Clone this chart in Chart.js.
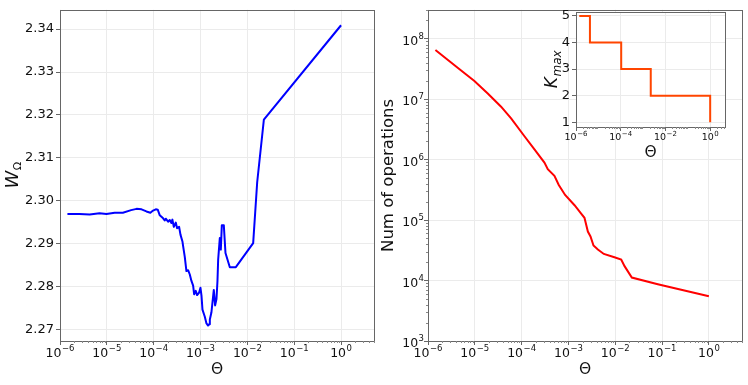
<!DOCTYPE html>
<html><head><meta charset="utf-8">
<script src="https://cdn.jsdelivr.net/npm/chart.js@4/dist/chart.umd.min.js"></script>
<style>
html,body{margin:0;padding:0;background:#fff;}
body{width:748px;height:385px;position:relative;overflow:hidden;}
.box{position:absolute;}
</style></head><body>
<div class="box" style="left:0;top:0;width:380px;height:385px"><canvas id="c1"></canvas></div>
<div class="box" style="left:374px;top:0;width:374px;height:385px"><canvas id="c2"></canvas></div>
<div class="box" style="left:530px;top:0;width:218px;height:170px"><canvas id="c3"></canvas></div>
<script>
// ---- data ----
const thetaW = [1.44e-6, 2.6e-6, 4.3e-6, 7.0e-6, 9.8e-6, 1.47e-5, 2.2e-5, 3.3e-5, 4.3e-5, 5.5e-5, 7.0e-5, 8.5e-5, 9.7e-5, 1.11e-4, 1.22e-4, 1.35e-4, 1.59e-4, 1.72e-4, 1.81e-4, 2.03e-4, 2.2e-4, 2.39e-4, 2.51e-4, 2.69e-4, 2.96e-4, 3.16e-4, 3.49e-4, 3.73e-4, 4.11e-4, 4.25e-4, 4.61e-4, 5.0e-4, 5.43e-4, 5.9e-4, 6.4e-4, 6.95e-4, 7.3e-4, 7.9e-4, 8.45e-4, 9.33e-4, 9.97e-4, 1.05e-3, 1.1e-3, 1.23e-3, 1.34e-3, 1.45e-3, 1.53e-3, 1.58e-3, 1.71e-3, 1.92e-3, 2.05e-3, 2.19e-3, 2.3e-3, 2.38e-3, 2.58e-3, 2.71e-3, 2.85e-3, 3.14e-3, 3.41e-3, 4.22e-3, 5.67e-3, 1.33e-2, 1.62e-2, 2.25e-2, 1.0];
const wOmega = [2.2969, 2.2969, 2.2968, 2.2971, 2.2969, 2.2972, 2.2972, 2.2978, 2.2981, 2.2980, 2.2975, 2.2972, 2.2977, 2.2980, 2.2979, 2.2966, 2.2959, 2.2954, 2.2958, 2.2951, 2.2955, 2.2948, 2.2956, 2.2939, 2.2949, 2.2936, 2.2939, 2.2921, 2.2905, 2.2894, 2.2869, 2.2836, 2.2838, 2.2828, 2.2813, 2.2802, 2.2782, 2.2790, 2.2780, 2.2786, 2.2797, 2.2778, 2.2746, 2.2730, 2.2714, 2.2709, 2.2712, 2.2723, 2.2740, 2.2792, 2.2756, 2.2771, 2.2813, 2.2863, 2.2913, 2.2886, 2.2943, 2.2943, 2.2878, 2.2845, 2.2845, 2.2901, 2.3043, 2.3189, 2.3409];
const thetaOps = [1.44e-6, 4.3e-6, 9.8e-6, 1.89e-5, 3.64e-5, 5.96e-5, 1.15e-4, 1.88e-4, 3.07e-4, 3.62e-4, 5.02e-4, 6.22e-4, 8.49e-4, 1.35e-3, 1.87e-3, 2.2e-3, 2.6e-3, 2.96e-3, 3.43e-3, 4.25e-3, 5.7e-3, 9.6e-3, 1.34e-2, 1.58e-2, 2.26e-2, 8.1e-2, 1.0];
const numOps = [6.5e7, 3.3e7, 2.0e7, 1.24e7, 7.5e6, 4.8e6, 2.43e6, 1.47e6, 8.9e5, 6.95e5, 5.4e5, 3.8e5, 2.6e5, 1.76e5, 1.28e5, 1.09e5, 6.45e4, 5.35e4, 3.8e4, 3.25e4, 2.75e4, 2.43e4, 2.23e4, 1.73e4, 1.12e4, 8.7e3, 5.5e3];
const thetaK = [1.4e-6, 4.2e-6, 1.05e-4, 2.2e-3, 1.0];
const kMax = [5, 4, 3, 2, 1];
const xTicksMain = [1e-6, 1e-5, 1e-4, 1e-3, 1e-2, 1e-1, 1];
const xTicksInset = [1e-6, 1e-4, 1e-2, 1];
const wTicks = [2.27, 2.28, 2.29, 2.30, 2.31, 2.32, 2.33, 2.34];
const opsTicks = [1e3, 1e4, 1e5, 1e6, 1e7, 1e8];
const kTicks = [1, 2, 3, 4, 5];

// ---- helpers ----
const FONT = "'DejaVu Sans', sans-serif";
Chart.defaults.font.family = FONT;
Chart.defaults.color = '#111';
function fixTicks(list){ return s => { s.ticks = list.map(v => ({value: v})); }; }
const GRID = '#ebebeb', SPINE = '#666', TXT = '#111';

// draw "10^e" label with a real superscript
function drawPow(c, v, x, y, base, sup, align){
  const e = Math.round(Math.log10(v));
  const es = (e < 0 ? '\u2212' : '') + Math.abs(e);
  c.font = base + 'px ' + FONT; const w1 = c.measureText('10').width;
  c.font = sup + 'px ' + FONT; const w2 = c.measureText(es).width;
  const tot = w1 + w2 + 0.5;
  let x0 = align === 'right' ? x - tot : x - tot / 2;
  c.textAlign = 'left'; c.textBaseline = 'alphabetic'; c.fillStyle = TXT;
  c.font = base + 'px ' + FONT; c.fillText('10', x0, y);
  c.font = sup + 'px ' + FONT; c.fillText(es, x0 + w1 + 0.5, y - base * 0.45);
}

const decoPlugin = {
  id: 'deco',
  beforeDraw(chart, args, o){
    if (o.bg){
      const a = chart.chartArea, c = chart.ctx;
      c.save(); c.fillStyle = '#fff';
      c.fillRect(a.left, a.top, a.right - a.left, a.bottom - a.top);
      c.restore();
    }
  },
  afterDatasetsDraw(chart, args, o){
    const a = chart.chartArea, c = chart.ctx;
    const xs = chart.scales.x, ys = chart.scales.y;
    c.save();
    // frame (spines)
    c.strokeStyle = SPINE; c.lineWidth = 1;
    c.strokeRect(Math.round(a.left) + 0.5, Math.round(a.top) + 0.5, Math.round(a.right - a.left), Math.round(a.bottom - a.top));
    // minor ticks on log axes
    c.strokeStyle = '#888';
    c.beginPath();
    const minors = (sc, fn) => {
      const lo = Math.floor(Math.log10(sc.min)), hi = Math.ceil(Math.log10(sc.max));
      for (let d = lo; d <= hi; d++) for (let k = 2; k <= 9; k++){
        const v = k * Math.pow(10, d);
        if (v >= sc.min && v <= sc.max) fn(Math.round(sc.getPixelForValue(v)) + 0.5);
      }
    };
    minors(xs, px => { c.moveTo(px, Math.round(a.bottom)); c.lineTo(px, Math.round(a.bottom) + o.minorLen); });
    if (ys.type === 'logarithmic') minors(ys, py => { c.moveTo(Math.round(a.left), py); c.lineTo(Math.round(a.left) - o.minorLen, py); });
    c.stroke();
    // x tick labels (powers of ten)
    xs.ticks.forEach(t => drawPow(c, t.value, xs.getPixelForValue(t.value), a.bottom + o.xLabBase, o.xBase, o.xSup, 'center'));
    if (o.yPow) ys.ticks.forEach(t => drawPow(c, t.value, a.left - 4, ys.getPixelForValue(t.value) + o.yLabShift, o.yBase, o.ySup, 'right'));
    // x title
    c.fillStyle = TXT;
    c.font = o.xTitleSize + 'px ' + FONT;
    c.textAlign = 'center'; c.textBaseline = 'middle';
    c.fillText(o.xTitle, (a.left + a.right) / 2, a.bottom + o.xTitleOffset);
    // y title (rotated, with optional subscript)
    c.translate(a.left - o.yTitleOffset, (a.top + a.bottom) / 2);
    c.rotate(-Math.PI / 2);
    c.textAlign = 'left'; c.textBaseline = 'middle';
    const mainFont = (o.yItalic ? 'italic ' : '') + o.yTitleSize + 'px ' + FONT;
    const subFont = (o.ySubItalic ? 'italic ' : '') + o.ySubSize + 'px ' + FONT;
    c.font = mainFont; const w1 = c.measureText(o.yMain).width;
    c.font = subFont; const w2 = o.ySub ? c.measureText(o.ySub).width : 0;
    const x0 = -(w1 + w2) / 2;
    c.font = mainFont; c.fillText(o.yMain, x0, 0);
    if (o.ySub){ c.font = subFont; c.fillText(o.ySub, x0 + w1 + 0.5, o.ySubShift); }
    c.restore();
  }
};
Chart.register(decoPlugin);

function baseOpts(cfg){
  return {
    responsive: true, maintainAspectRatio: false, animation: false, devicePixelRatio: 1,
    layout: {padding: cfg.padding},
    plugins: {legend: {display: false}, tooltip: {enabled: false}, deco: cfg.deco},
    scales: {
      x: {
        type: 'logarithmic', min: cfg.xMin, max: cfg.xMax,
        afterBuildTicks: fixTicks(cfg.xTicks),
        afterFit: s => { s.height = cfg.xAxisH; },
        grid: {color: GRID, tickColor: SPINE, tickLength: 4, lineWidth: 1},
        border: {display: false},
        ticks: {autoSkip: false, maxRotation: 0, minRotation: 0, padding: 1, font: {size: 12}, callback: () => ''}
      },
      y: {
        type: cfg.yType, min: cfg.yMin, max: cfg.yMax,
        afterBuildTicks: fixTicks(cfg.yTicks),
        afterFit: s => { s.width = cfg.yAxisW; },
        grid: {color: GRID, tickColor: SPINE, tickLength: 4, lineWidth: 1},
        border: {display: false},
        ticks: {autoSkip: false, padding: 2, font: {size: cfg.yTickSize}, color: TXT, callback: cfg.yFmt}
      }
    }
  };
}

// ---- left chart ----
new Chart(document.getElementById('c1'), {
  type: 'line',
  data: {datasets: [{data: thetaW.map((t, i) => ({x: t, y: wOmega[i]})), borderColor: '#0000ff', borderWidth: 2, pointRadius: 0, tension: 0, fill: false, borderJoinStyle: 'round'}]},
  options: baseOpts({
    padding: {left: 0, top: 5, right: 6, bottom: 0},
    xMin: 1e-6, xMax: 5.05, xTicks: xTicksMain, xAxisH: 44,
    yType: 'linear', yMin: 2.2673, yMax: 2.3445, yTicks: wTicks, yAxisW: 60, yTickSize: 13,
    yFmt: v => v.toFixed(2),
    deco: {xTitle: '\u0398', xTitleSize: 15.5, xTitleOffset: 28.5, minorLen: 2, xLabBase: 15.5, xBase: 12.5, xSup: 8.5,
           yMain: 'W', ySub: '\u03A9', yItalic: true, ySubItalic: false, yTitleSize: 18, ySubSize: 11, ySubShift: 5, yTitleOffset: 47}
  })
});

// ---- right chart ----
new Chart(document.getElementById('c2'), {
  type: 'line',
  data: {datasets: [{data: thetaOps.map((t, i) => ({x: t, y: numOps[i]})), borderColor: '#ff0000', borderWidth: 2, pointRadius: 0, tension: 0, fill: false}]},
  options: baseOpts({
    padding: {left: 0, top: 5, right: 6, bottom: 0},
    xMin: 1e-6, xMax: 5.1, xTicks: xTicksMain, xAxisH: 44,
    yType: 'logarithmic', yMin: 1e3, yMax: 3e8, yTicks: opsTicks, yAxisW: 54, yTickSize: 13,
    yFmt: () => '',
    deco: {xTitle: '\u0398', xTitleSize: 15.5, xTitleOffset: 28.5, minorLen: 2, xLabBase: 15.5, xBase: 12.5, xSup: 8.5,
           yPow: true, yBase: 12.5, ySup: 8.5, yLabShift: 6,
           yMain: 'Num of operations', ySub: '', yItalic: false, yTitleSize: 16.5, ySubSize: 11, ySubShift: 0, yTitleOffset: 39}
  })
});

// ---- inset ----
new Chart(document.getElementById('c3'), {
  type: 'line',
  data: {datasets: [{data: thetaK.map((t, i) => ({x: t, y: kMax[i]})), borderColor: '#ff4500', borderWidth: 2, pointRadius: 0, stepped: 'before', fill: false}]},
  options: baseOpts({
    padding: {left: 0, top: 12, right: 23, bottom: 0},
    xMin: 1e-6, xMax: 4.6, xTicks: xTicksInset, xAxisH: 43,
    yType: 'linear', yMin: 0.82, yMax: 5.15, yTicks: kTicks, yAxisW: 46, yTickSize: 13,
    yFmt: v => String(v),
    deco: {bg: true, xTitle: '\u0398', xTitleSize: 15.5, xTitleOffset: 26, minorLen: 2, xLabBase: 13.3, xBase: 9.5, xSup: 7,
           yMain: 'K', ySub: 'max', yItalic: true, ySubItalic: true, yTitleSize: 17, ySubSize: 12, ySubShift: 5, yTitleOffset: 23}
  })
});
</script>
</body></html>
